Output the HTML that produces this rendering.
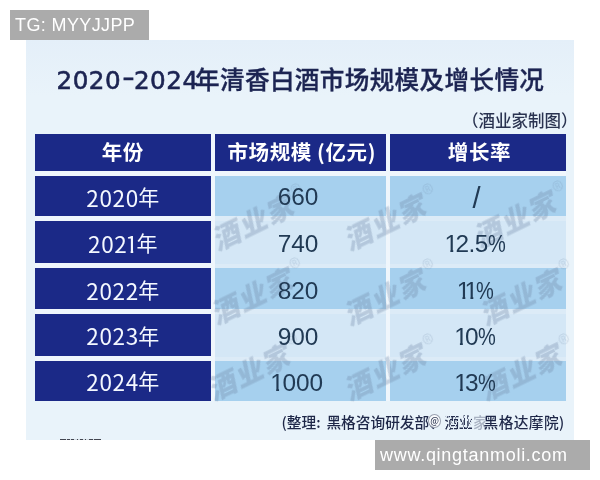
<!DOCTYPE html>
<html lang="zh-CN">
<head>
<meta charset="utf-8">
<title>2020-2024年清香白酒市场规模及增长情况</title>
<style>
html,body{margin:0;padding:0;background:#fff;}
body{width:600px;height:480px;position:relative;overflow:hidden;font-family:"Liberation Sans","Noto Sans CJK SC",sans-serif;}
.abs{position:absolute;}
.tag{position:absolute;background:#ababab;color:#fff;font-size:18px;line-height:30px;height:30px;white-space:nowrap;font-family:"Liberation Sans",sans-serif;}
#tag1{left:10px;top:10px;width:134px;padding-left:5px;letter-spacing:0.38px;line-height:31px;}
#tag2{left:375px;top:440px;width:210px;padding-left:5px;letter-spacing:0.72px;}
#pic{position:absolute;left:26px;top:40px;width:548px;height:400px;background:linear-gradient(180deg,#e4eff9 0,#e9f3fa 14%,#e9f3fa 100%);overflow:hidden;}
/* coordinates inside #pic are page coords minus (26,40) */
.navy{position:absolute;background:#1b2987;}
.tbg{position:absolute;background:#eff6fc;}
.gapc{position:absolute;background:#dcebf7;}
.band{position:absolute;background:#a6d0ee;}
.lite{position:absolute;background:#d4e7f6;}
.cell{position:absolute;text-align:center;white-space:nowrap;}
.hd{color:#fff;font-weight:700;font-size:20.5px;line-height:36px;letter-spacing:0.6px;font-family:"Noto Sans CJK SC","Liberation Sans",sans-serif;}
.yr{color:#f4f8ff;font-weight:400;font-size:22.5px;line-height:40px;font-family:"Noto Sans CJK SC","Liberation Sans",sans-serif;}
.val{color:#213a54;font-weight:400;font-size:24.4px;line-height:40px;font-family:"Liberation Sans","Noto Sans CJK SC",sans-serif;}
#title{position:absolute;left:30.5px;top:20px;letter-spacing:0.35px;-webkit-text-stroke:0.35px #1c2452;white-space:nowrap;color:#1c2452;font-size:24.6px;line-height:36px;font-weight:500;font-family:"Noto Sans CJK SC","Liberation Sans",sans-serif;}
#title .num{font-family:"DejaVu Sans","Liberation Sans",sans-serif;font-weight:400;letter-spacing:0.5px;-webkit-text-stroke:0.6px #1c2452;}
#sub{position:absolute;left:436px;top:67.5px;white-space:nowrap;color:#2a3350;font-weight:500;font-size:16.5px;line-height:24px;font-family:"Noto Sans CJK SC","Liberation Sans",sans-serif;}
.ft{position:absolute;top:370px;word-spacing:2.5px;white-space:nowrap;color:#1e2748;font-size:14.7px;line-height:24px;font-weight:500;font-family:"Noto Sans CJK SC","Liberation Sans",sans-serif;}
.wm{position:absolute;width:120px;height:40px;margin-left:-60px;margin-top:-20px;text-align:center;white-space:nowrap;color:rgba(105,128,160,0.31);font-size:28px;letter-spacing:1.5px;line-height:40px;font-weight:900;font-style:italic;transform:rotate(-26deg);font-family:"Noto Sans CJK SC","Liberation Sans",sans-serif;}
.wm sup{position:absolute;left:108px;top:2px;font-size:24px;line-height:24px;font-weight:200;color:rgba(105,128,160,0.22);font-style:normal;letter-spacing:0;}
.yr .d{letter-spacing:0.7px;}
.yr .c{font-size:21px;margin-left:-0.7px;position:relative;top:-1.5px;}
.val i{font-style:normal;display:inline-block;margin:0 -1.5px 0 -2.5px;clip-path:polygon(0 0,100% 0,100% 26.4px,8.7px 26.4px,8.7px 100%,5.8px 100%,5.8px 26.4px,0 26.4px);}
.v3{letter-spacing:-0.6px;}
.v3 b{font-weight:400;display:inline-block;transform:scaleX(0.82);transform-origin:0 50%;margin-right:-4px;}
.v3 i{margin:0 -2px 0 -3px;}
.v2{letter-spacing:0px;}
.wb .lg{display:inline-block;width:11px;height:12px;border:1px solid #9aa1b0;border-radius:50%;font-size:9px;line-height:12px;text-align:center;color:#39415c;background:rgba(255,255,255,0.85);vertical-align:0px;margin-right:3.5px;overflow:hidden;}
.wb .w1{letter-spacing:-0.4px;color:transparent;background:repeating-linear-gradient(118deg,#252e4e 0,#252e4e 3.2px,rgba(225,232,244,0.95) 3.2px,rgba(225,232,244,0.95) 4.1px);-webkit-background-clip:text;background-clip:text;}
.wb .w2{color:#a9b2c2;}
#title .hy{display:inline-block;position:relative;top:-3.2px;margin-left:3px;margin-right:0.5px;transform:scale(1.4,1.05);}
#title .num{margin-right:-3.5px;}
.cut{position:absolute;background:linear-gradient(90deg,rgba(38,40,50,0.85) 0px,rgba(38,40,50,0.85) 6.5px,rgba(38,40,50,0.12) 6.5px,rgba(38,40,50,0.12) 7.5px,rgba(38,40,50,0.85) 7.5px,rgba(38,40,50,0.85) 10.5px,rgba(38,40,50,0.12) 10.5px,rgba(38,40,50,0.12) 11.5px,rgba(38,40,50,0.85) 11.5px,rgba(38,40,50,0.85) 14px,rgba(38,40,50,0.12) 14px,rgba(38,40,50,0.12) 17px,rgba(38,40,50,0.85) 17px,rgba(38,40,50,0.85) 17.8px,rgba(38,40,50,0.12) 17.8px,rgba(38,40,50,0.12) 20px,rgba(38,40,50,0.85) 20px,rgba(38,40,50,0.85) 23px,rgba(38,40,50,0.12) 23px,rgba(38,40,50,0.12) 24.5px,rgba(38,40,50,0.85) 24.5px,rgba(38,40,50,0.85) 26.5px,rgba(38,40,50,0.12) 26.5px,rgba(38,40,50,0.12) 28.5px,rgba(38,40,50,0.85) 28.5px,rgba(38,40,50,0.85) 33px,rgba(38,40,50,0.12) 33px,rgba(38,40,50,0.12) 34px,rgba(38,40,50,0.85) 34px,rgba(38,40,50,0.85) 40.5px,rgba(38,40,50,0.12) 40.5px,rgba(38,40,50,0.12) 41px);}
.sl{font-size:29px;position:relative;top:1px;}
.yr i{font-style:normal;display:inline-block;margin:0 -1.2px 0 -2.3px;clip-path:polygon(0 0,100% 0,100% 27.9px,8px 27.9px,8px 100%,5.4px 100%,5.4px 27.9px,0 27.9px);}
.cell,#title,#sub,.ft{filter:blur(0.3px);}
.wm{filter:blur(0.5px);}
</style>
</head>
<body>
<div class="tag" id="tag1">TG: MYYJJPP</div>
<div id="pic">
  <div class="cut" style="left:34px;top:398.6px;width:41px;height:1.4px"></div>
  <div id="title"><span class="num">2020<span class="hy">-</span>2024</span>年清香白酒市场规模及增长情况</div>
  <div id="sub">（酒业家制图）</div>

  <div class="tbg" style="left:8.5px;top:94px;width:531px;height:267px"></div>
  <div class="gapc" style="left:189px;top:176px;width:170.5px;height:185px"></div>
  <div class="gapc" style="left:364px;top:176px;width:175.5px;height:185px"></div>
  <!-- header -->
  <div class="navy" style="left:8.5px;top:94px;width:176.5px;height:36.5px"></div>
  <div class="navy" style="left:189px;top:94px;width:170.5px;height:36.5px"></div>
  <div class="navy" style="left:364px;top:94px;width:175.5px;height:36.5px"></div>

  <!-- year column -->
  <div class="navy" style="left:8.5px;top:136px;width:176.5px;height:40px"></div>
  <div class="navy" style="left:8.5px;top:181px;width:176.5px;height:42px"></div>
  <div class="navy" style="left:8.5px;top:228px;width:176.5px;height:41px"></div>
  <div class="navy" style="left:8.5px;top:274px;width:176.5px;height:41.5px"></div>
  <div class="navy" style="left:8.5px;top:321px;width:176.5px;height:40px"></div>

  <!-- data columns -->
  <div class="lite" style="left:189px;top:181px;width:170.5px;height:42.5px"></div>
  <div class="lite" style="left:364px;top:181px;width:175.5px;height:42.5px"></div>
  <div class="lite" style="left:189px;top:274px;width:170.5px;height:42.5px"></div>
  <div class="lite" style="left:364px;top:274px;width:175.5px;height:42.5px"></div>
  <div class="band" style="left:189px;top:136px;width:170.5px;height:40px"></div>
  <div class="band" style="left:364px;top:136px;width:175.5px;height:40px"></div>
  <div class="band" style="left:189px;top:228px;width:170.5px;height:41px"></div>
  <div class="band" style="left:364px;top:228px;width:175.5px;height:41px"></div>
  <div class="band" style="left:189px;top:321px;width:170.5px;height:40px"></div>
  <div class="band" style="left:364px;top:321px;width:175.5px;height:40px"></div>

  <!-- watermarks -->
  <div class="wm" style="left:226px;top:181px">酒业家<sup>®</sup></div>
  <div class="wm" style="left:358px;top:181px">酒业家<sup>®</sup></div>
  <div class="wm" style="left:488px;top:178px">酒业家<sup>®</sup></div>
  <div class="wm" style="left:224.5px;top:254.5px">酒业家<sup>®</sup></div>
  <div class="wm" style="left:358px;top:256px">酒业家<sup>®</sup></div>
  <div class="wm" style="left:494px;top:256px">酒业家<sup>®</sup></div>
  <div class="wm" style="left:222px;top:331px">酒业家<sup>®</sup></div>
  <div class="wm" style="left:358px;top:331px">酒业家<sup>®</sup></div>
  <div class="wm" style="left:494px;top:331px">酒业家<sup>®</sup></div>

  <!-- header text -->
  <div class="cell hd" style="left:8.5px;top:93px;width:176.5px">年份</div>
  <div class="cell hd" style="left:190.5px;top:93px;width:170.5px">市场规模 (亿元)</div>
  <div class="cell hd" style="left:365.7px;top:93px;width:175.5px">增长率</div>

  <!-- years -->
  <div class="cell yr" style="left:8.5px;top:136.5px;width:176.5px"><span class="d">2020</span><span class="c">年</span></div>
  <div class="cell yr" style="left:8.5px;top:182.5px;width:176.5px"><span class="d">202<i>1</i></span><span class="c">年</span></div>
  <div class="cell yr" style="left:8.5px;top:229.5px;width:176.5px"><span class="d">2022</span><span class="c">年</span></div>
  <div class="cell yr" style="left:8.5px;top:275px;width:176.5px"><span class="d">2023</span><span class="c">年</span></div>
  <div class="cell yr" style="left:8.5px;top:320.5px;width:176.5px"><span class="d">2024</span><span class="c">年</span></div>

  <!-- values -->
  <div class="cell val v2" style="left:189px;top:137px;width:166px">660</div>
  <div class="cell val v2" style="left:189px;top:183.5px;width:166px">740</div>
  <div class="cell val v2" style="left:189px;top:230.5px;width:166px">820</div>
  <div class="cell val v2" style="left:189px;top:276.5px;width:166px">900</div>
  <div class="cell val v2" style="left:189px;top:322.5px;width:166px"><i>1</i>000</div>

  <div class="cell val v3" style="left:362.4px;top:137px;width:175.5px"><span class="sl">/</span></div>
  <div class="cell val v3" style="left:362.4px;top:183.5px;width:175.5px"><i>1</i>2.5<b>%</b></div>
  <div class="cell val v3" style="left:362.4px;top:230.5px;width:175.5px"><i>1</i><i>1</i><b>%</b></div>
  <div class="cell val v3" style="left:362.4px;top:276.5px;width:175.5px"><i>1</i>0<b>%</b></div>
  <div class="cell val v3" style="left:362.4px;top:322.5px;width:175.5px"><i>1</i>3<b>%</b></div>

  <div class="ft" style="left:255.6px">(整理: 黑格咨询研发部、</div>
  <div class="ft wb" style="left:402px"><span class="lg">@</span><span class="w1">酒业</span><span class="w2">家</span></div>
  <div class="ft" style="left:457.6px;letter-spacing:0.4px">黑格达摩院)</div>
</div>
<div class="tag" id="tag2">www.qingtanmoli.com</div>
</body>
</html>
